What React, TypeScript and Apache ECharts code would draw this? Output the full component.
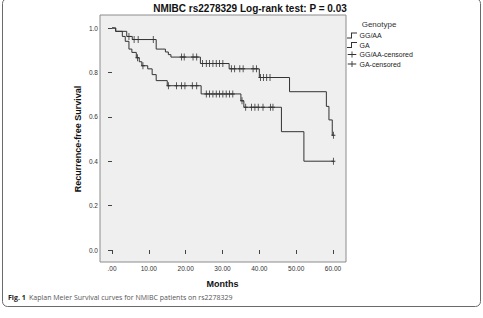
import { useEffect, useRef } from "react";
import * as echarts from "echarts";

// Months axis ticks and survival axis ticks
const monthTicks = [0, 10, 20, 30, 40, 50, 60];
const survivalTicks = [0, 0.2, 0.4, 0.6, 0.8, 1.0];

// GG/AA genotype: event times (months) and survival after each event
const ggaaTimes = [0, 1.0, 4.0, 5.5, 12.0, 14.5, 15.3, 16.0, 24.0, 31.8, 40.0, 48.2, 58.2, 58.9, 59.8];
const ggaaSurvival = [1.0, 0.985, 0.962, 0.948, 0.905, 0.892, 0.88, 0.869, 0.84, 0.816, 0.777, 0.713, 0.647, 0.586, 0.517];
const ggaaCensored = [4.6, 6.0, 7.1, 11.2, 18.9, 19.6, 22.0, 23.0, 24.6, 25.6, 26.5, 27.4, 28.3, 29.2, 30.1, 32.4, 33.3, 34.7, 35.6, 38.3, 39.2, 40.3, 41.1, 42.0, 42.9, 60.1];

// GA genotype
const gaTimes = [0, 1.0, 2.8, 3.6, 4.6, 5.4, 6.6, 7.4, 8.1, 9.7, 10.9, 12.0, 15.0, 24.2, 35.0, 35.8, 46.0, 52.1];
const gaSurvival = [1.0, 0.985, 0.962, 0.94, 0.905, 0.89, 0.866, 0.848, 0.83, 0.816, 0.79, 0.763, 0.74, 0.703, 0.672, 0.643, 0.533, 0.4];
const gaCensored = [6.9, 8.4, 15.3, 17.5, 18.9, 19.8, 21.8, 23.0, 25.6, 26.5, 27.4, 28.3, 29.2, 30.1, 31.0, 31.9, 32.8, 35.3, 36.3, 37.9, 38.8, 39.7, 41.0, 43.0, 43.7, 60.1];

const followUpEnd = 60.1;

const legendNames = ["GG/AA", "GA", "GG/AA-censored", "GA-censored"];

const FONT = "'Liberation Sans', Arial, sans-serif";
const INK = "#333333";

// thin filled shapes so they render like strokes
const stepIcon = "path://M0,5H4V0H10V1H5V6H0Z";
const crossIcon = "path://M0,3H4.5V0H5.5V3H10V4H5.5V7H4.5V4H0Z";
const censorSymbol = "path://M0,3H1.6V0H2.4V3H4V4H2.4V7H1.6V4H0Z";

function survivalAt(times: number[], surv: number[], t: number) {
  let s = surv[0];
  for (let i = 0; i < times.length; i++) {
    if (times[i] <= t) s = surv[i];
  }
  return s;
}

function curve(times: number[], surv: number[]) {
  const pts = times.map((t, i) => [t, surv[i]]);
  pts.push([followUpEnd, surv[surv.length - 1]]);
  return pts;
}

function censorPoints(times: number[], surv: number[], marks: number[]) {
  return marks.map((t) => [t, survivalAt(times, surv, t)]);
}

export default function App() {
  const ref = useRef<HTMLDivElement>(null);

  useEffect(() => {
    if (!ref.current) return;
    const chart = echarts.init(ref.current, undefined, { renderer: "svg" });

    const lineSeries = (name: string, times: number[], surv: number[]) => ({
      name,
      type: "line",
      xAxisIndex: 1,
      yAxisIndex: 1,
      step: "end",
      symbol: "none",
      clip: false,
      silent: true,
      data: curve(times, surv),
      lineStyle: { color: INK, width: 1 },
      itemStyle: { color: INK },
    });

    const censorSeries = (name: string, times: number[], surv: number[], marks: number[]) => ({
      name,
      type: "scatter",
      xAxisIndex: 1,
      yAxisIndex: 1,
      symbol: censorSymbol,
      symbolSize: [4, 7],
      symbolKeepAspect: false,
      clip: false,
      silent: true,
      data: censorPoints(times, surv, marks),
      itemStyle: { color: INK, opacity: 1 },
    });

    chart.setOption({
      animation: false,
      textStyle: { fontFamily: FONT },
      grid: [
        {
          left: 100,
          right: 137,
          top: 15,
          bottom: 56,
          show: true,
          backgroundColor: "#efefef",
          borderColor: "#8c8c8c",
          borderWidth: 1,
        },
        { left: 112, right: 150, top: 28, bottom: 68 },
      ],
      xAxis: [
        { gridIndex: 0, type: "value", min: 0, max: 1, show: false },
        {
          gridIndex: 1,
          type: "value",
          min: monthTicks[0],
          max: monthTicks[monthTicks.length - 1],
          interval: 10,
          offset: 12,
          axisLine: { show: false },
          axisTick: { show: true, length: 4, lineStyle: { color: "#444" } },
          axisLabel: {
            fontSize: 6.5,
            color: "#333",
            margin: 3,
            formatter: (v: number) => (v === 0 ? ".00" : v.toFixed(2)),
          },
          splitLine: { show: false },
          name: "Months",
          nameLocation: "middle",
          nameGap: 17,
          nameTextStyle: { fontSize: 9, fontWeight: "bold", color: "#111" },
        },
      ],
      yAxis: [
        { gridIndex: 0, type: "value", min: 0, max: 1, show: false },
        {
          gridIndex: 1,
          type: "value",
          min: survivalTicks[0],
          max: survivalTicks[survivalTicks.length - 1],
          interval: 0.2,
          offset: 12,
          axisLine: { show: false },
          axisTick: { show: true, length: 4, lineStyle: { color: "#444" } },
          axisLabel: {
            fontSize: 6.5,
            color: "#333",
            margin: 2,
            formatter: (v: number) => v.toFixed(1),
          },
          splitLine: { show: false },
          name: "Recurrence-free Survival",
          nameLocation: "middle",
          nameGap: 18,
          nameTextStyle: { fontSize: 9, fontWeight: "bold", color: "#111" },
        },
      ],
      legend: {
        orient: "vertical",
        left: 347,
        top: 32,
        padding: 0,
        itemWidth: 11,
        itemHeight: 6,
        itemGap: 2.5,
        selectedMode: false,
        textStyle: { fontSize: 7, color: "#222", padding: [0, 0, 0, -3] },
        data: [
          { name: legendNames[0], icon: stepIcon },
          { name: legendNames[1], icon: stepIcon },
          { name: legendNames[2], icon: crossIcon },
          { name: legendNames[3], icon: crossIcon },
        ],
      },
      graphic: [
        {
          type: "rect",
          shape: { x: 2.5, y: -1.5, width: 478, height: 308, r: 5 },
          style: { fill: "none", stroke: "#6a6a6a", lineWidth: 1 },
          silent: true,
        },
        {
          type: "text",
          x: 250,
          y: 8,
          style: {
            text: "NMIBC rs2278329 Log-rank test: P = 0.03",
            font: `bold 10px ${FONT}`,
            fill: "#111",
            textAlign: "center",
            textVerticalAlign: "middle",
          },
        },
        {
          type: "text",
          x: 379,
          y: 24,
          style: {
            text: "Genotype",
            font: `8px ${FONT}`,
            fill: "#333",
            textAlign: "center",
            textVerticalAlign: "middle",
          },
        },
        {
          type: "text",
          x: 8,
          y: 297,
          style: {
            text: "{b|Fig. 1} {r|Kaplan Meier Survival curves for NMIBC patients on rs2278329}",
            textVerticalAlign: "middle",
            rich: {
              b: { fontFamily: "'Open Sans', sans-serif", fontWeight: "bold", fontSize: 7, fill: "#222", color: "#222" },
              r: { fontFamily: "'Open Sans', sans-serif", fontSize: 7, fill: "#555", color: "#555" },
            },
          },
        },
      ],
      series: [
        lineSeries(legendNames[0], ggaaTimes, ggaaSurvival),
        lineSeries(legendNames[1], gaTimes, gaSurvival),
        censorSeries(legendNames[2], ggaaTimes, ggaaSurvival, ggaaCensored),
        censorSeries(legendNames[3], gaTimes, gaSurvival, gaCensored),
      ],
    });

    return () => chart.dispose();
  }, []);

  return (
    <div
      ref={ref}
      style={{ position: "fixed", left: 0, top: 0, width: 483, height: 318, background: "#fff" }}
    />
  );
}
